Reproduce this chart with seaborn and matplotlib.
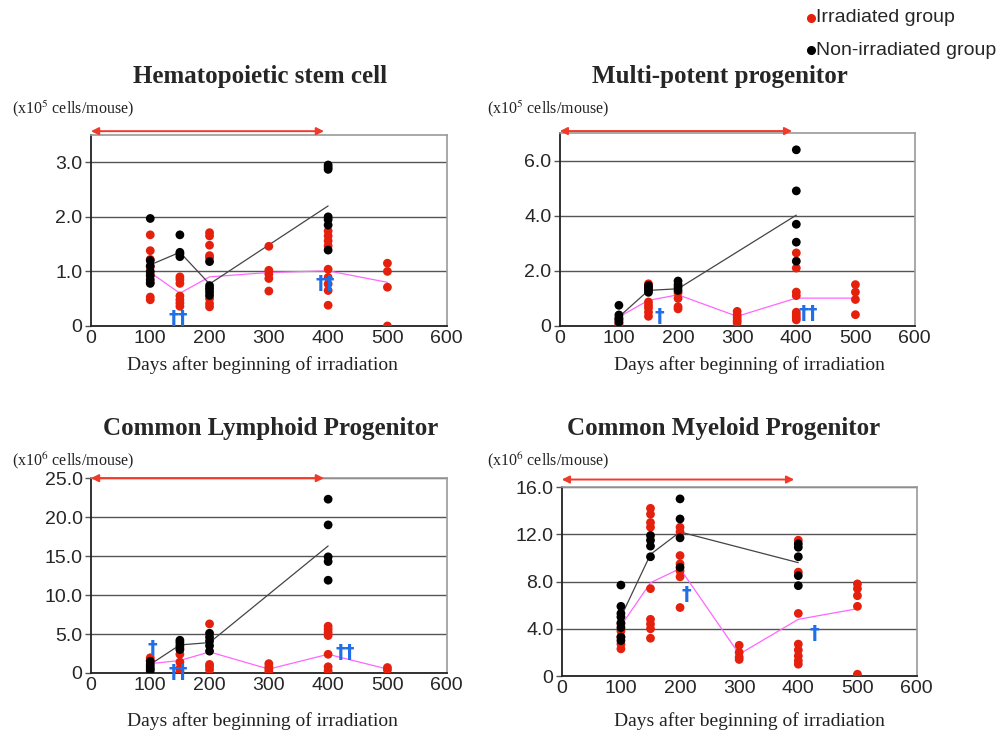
import numpy as np
import pandas as pd
import matplotlib
matplotlib.use('Agg')
import matplotlib.pyplot as plt
from matplotlib.lines import Line2D
import seaborn as sns

# --- Hematopoietic stem cell (x10^5 cells/mouse)
hsc_irr_days = [100, 150, 200, 300, 400, 500]
hsc_irr = [[1.67, 1.38, 1.22, 1.08, 0.95, 0.8, 0.53, 0.48],
           [0.9, 0.85, 0.78, 0.55, 0.48, 0.42, 0.36],
           [1.71, 1.65, 1.48, 1.29, 1.25, 0.69, 0.5, 0.41, 0.35],
           [1.46, 1.02, 0.95, 0.87, 0.64],
           [1.74, 1.65, 1.56, 1.47, 1.04, 0.89, 0.77, 0.65, 0.38],
           [1.15, 1.0, 0.71, 0.0]]
hsc_non_days = [100, 150, 200, 400]
hsc_non = [[1.97, 1.2, 1.1, 1.0, 0.92, 0.85, 0.78],
           [1.67, 1.35, 1.32, 1.27],
           [1.18, 0.74, 0.68, 0.62, 0.56],
           [2.95, 2.91, 2.87, 2.0, 1.95, 1.85, 1.39]]
hsc_irr_mean = [0.98, 0.6, 0.9, 0.98, 1.01, 0.8]
hsc_non_mean = [1.12, 1.35, 0.77, 2.2]
hsc_daggers = [(148, 0.13, '††'), (395, 0.78, '††')]

# --- Multi-potent progenitor (x10^5 cells/mouse)
mpp_irr_days = [100, 150, 200, 300, 400, 500]
mpp_irr = [[0.25, 0.1, 0.05],
           [1.53, 1.42, 0.87, 0.75, 0.65, 0.5, 0.35],
           [1.2, 1.0, 0.7, 0.62],
           [0.53, 0.4, 0.3, 0.2, 0.12],
           [2.65, 2.1, 1.23, 1.1, 0.5, 0.4, 0.3, 0.22],
           [1.5, 1.23, 0.96, 0.41]]
mpp_non_days = [100, 150, 200, 400]
mpp_non = [[0.75, 0.4, 0.3, 0.22, 0.14],
           [1.47, 1.38, 1.3, 1.22],
           [1.63, 1.5, 1.4, 1.29],
           [6.39, 4.9, 3.69, 3.04, 2.35]]
mpp_irr_mean = [0.33, 0.93, 1.13, 0.35, 1.01, 1.01]
mpp_non_mean = [0.33, 1.29, 1.35, 4.02]
mpp_daggers = [(169, 0.36, '†'), (421, 0.45, '††')]

# --- Common Lymphoid Progenitor (x10^6 cells/mouse)
clp_irr_days = [100, 150, 200, 300, 400, 500]
clp_irr = [[1.95, 1.6],
           [3.2, 2.4, 1.4, 0.6, 0.2],
           [6.3, 1.1, 0.8, 0.4],
           [1.2, 0.8, 0.5, 0.2],
           [6.0, 5.6, 5.2, 4.8, 2.4, 0.8, 0.3],
           [0.7, 0.4]]
clp_non_days = [100, 150, 200, 400]
clp_non = [[1.5, 1.1, 0.8, 0.5, 0.3],
           [4.2, 3.9, 3.5, 3.0],
           [5.1, 4.6, 4.1, 3.5, 2.8],
           [22.3, 19.0, 14.9, 14.3, 11.9]]
clp_irr_mean = [1.2, 1.6, 2.7, 0.5, 2.4, 0.5]
clp_non_mean = [1.1, 3.6, 3.9, 16.3]
clp_daggers = [(103, 3.1, '†'), (148, 0.0, '††'), (429, 2.6, '††')]

# --- Common Myeloid Progenitor (x10^6 cells/mouse)
cmp_irr_days = [100, 150, 200, 300, 400, 500]
cmp_irr = [[4.4, 3.8, 3.3, 2.7, 2.3],
           [14.2, 13.7, 13.0, 12.6, 7.4, 4.8, 4.4, 4.0, 3.2],
           [12.6, 12.2, 10.2, 9.5, 8.9, 8.4, 5.8],
           [2.6, 2.0, 1.6, 1.4],
           [11.5, 8.8, 5.3, 2.7, 2.2, 1.7, 1.3, 1.0],
           [7.8, 7.4, 6.8, 5.9, 0.15]]
cmp_non_days = [100, 150, 200, 400]
cmp_non = [[7.7, 5.9, 5.3, 5.0, 4.5, 4.1, 3.3, 3.0],
           [11.9, 11.5, 11.0, 10.1],
           [15.0, 13.3, 11.7, 9.2],
           [11.2, 10.9, 10.1, 8.5, 7.65]]
cmp_irr_mean = [4.25, 7.9, 9.1, 1.85, 4.8, 5.7]
cmp_non_mean = [5.0, 10.3, 12.2, 9.6]
cmp_daggers = [(211, 6.9, '†'), (428, 3.6, '†')]

titles = ['Hematopoietic stem cell', 'Multi-potent progenitor',
          'Common Lymphoid Progenitor', 'Common Myeloid Progenitor']
units = [r'(x10$^{5}$ cells/mouse)', r'(x10$^{5}$ cells/mouse)',
         r'(x10$^{6}$ cells/mouse)', r'(x10$^{6}$ cells/mouse)']
y_ticks = [[0, 1.0, 2.0, 3.0], [0, 2.0, 4.0, 6.0],
           [0, 5.0, 10.0, 15.0, 20.0, 25.0], [0, 4.0, 8.0, 12.0, 16.0]]
y_max = [3.5, 7.0, 25.0, 16.0]
x_ticks = [0, 100, 200, 300, 400, 500, 600]
irradiation_end = 393

RED = '#e5200c'
PINK = '#ff66ff'
BLUE = '#1f6fe8'

sns.set_style('white')
plt.rcParams['font.family'] = ['Liberation Sans', 'DejaVu Sans']
plt.rcParams['mathtext.fontset'] = 'stix'


def long_frame(irr_days, irr, non_days, non):
    rows = []
    for d, vals in zip(irr_days, irr):
        rows += [(d, v, 'Irradiated') for v in vals]
    for d, vals in zip(non_days, non):
        rows += [(d, v, 'Non-irradiated') for v in vals]
    return pd.DataFrame(rows, columns=['day', 'value', 'group'])


panels = [
    (hsc_irr_days, hsc_irr, hsc_non_days, hsc_non, hsc_irr_mean, hsc_non_mean, hsc_daggers),
    (mpp_irr_days, mpp_irr, mpp_non_days, mpp_non, mpp_irr_mean, mpp_non_mean, mpp_daggers),
    (clp_irr_days, clp_irr, clp_non_days, clp_non, clp_irr_mean, clp_non_mean, clp_daggers),
    (cmp_irr_days, cmp_irr, cmp_non_days, cmp_non, cmp_irr_mean, cmp_non_mean, cmp_daggers),
]

# axes rectangles in figure fraction
rects = [[0.0905, 0.5583, 0.354, 0.2588],
         [0.557, 0.5583, 0.353, 0.2615],
         [0.0905, 0.0881, 0.354, 0.264],
         [0.559, 0.084, 0.353, 0.256]]
arrow_y = [1.02, 1.01, 1.0, 1.04]
title_pos = [(0.259, 0.897), (0.716, 0.897), (0.269, 0.420), (0.720, 0.420)]
unit_pos = [(0.012, 0.853), (0.485, 0.853), (0.012, 0.376), (0.485, 0.376)]
xlab_pos = [(0.261, 0.505), (0.746, 0.505), (0.261, 0.023), (0.746, 0.023)]

fig = plt.figure(figsize=(10.05, 7.38), dpi=100)

for i, (idays, irr, ndays, non, imean, nmean, daggers) in enumerate(panels):
    ax = fig.add_axes(rects[i])
    df = long_frame(idays, irr, ndays, non)
    means = pd.DataFrame({'day': idays + ndays,
                          'value': imean + nmean,
                          'group': ['Irradiated'] * len(idays) + ['Non-irradiated'] * len(ndays)})

    sns.lineplot(data=means, x='day', y='value', hue='group',
                 palette={'Irradiated': PINK, 'Non-irradiated': '#444444'},
                 estimator=None, sort=False, lw=0.9, legend=False, ax=ax, zorder=2)
    sns.scatterplot(data=df, x='day', y='value', hue='group',
                    palette={'Irradiated': RED, 'Non-irradiated': 'black'},
                    s=40, edgecolor='none', legend=False, ax=ax, zorder=3)

    for dx, dy, txt in daggers:
        ax.text(dx, dy, txt, color=BLUE, fontsize=14, fontweight='bold',
                ha='center', va='center', family='DejaVu Sans', zorder=4, clip_on=False)

    ax.set_xlim(0, 600)
    ax.set_ylim(0, y_max[i])
    ax.set_xticks(x_ticks)
    ax.set_yticks(y_ticks[i])
    ax.set_yticklabels(['0' if v == 0 else f'{v:.1f}' for v in y_ticks[i]])
    ax.set_xlabel('')
    ax.set_ylabel('')
    ax.tick_params(axis='x', length=0, labelsize=14, pad=3)
    ax.tick_params(axis='y', length=4, width=1, color='#555555', direction='out',
                   left=True, labelsize=14, pad=2)
    ax.yaxis.grid(True, color='#555555', lw=1)
    ax.xaxis.grid(False)
    ax.set_axisbelow(True)
    for side in ['top', 'right']:
        ax.spines[side].set_color('#9a9a9a')
        ax.spines[side].set_linewidth(1.2)
    for side in ['left', 'bottom']:
        ax.spines[side].set_color('#222222')
        ax.spines[side].set_linewidth(1.3)

    ax.annotate('', xy=(0, arrow_y[i]), xytext=(irradiation_end, arrow_y[i]),
                xycoords=('data', 'axes fraction'), textcoords=('data', 'axes fraction'),
                arrowprops=dict(arrowstyle='<|-|>', color='#f03a2a', lw=1.4,
                                mutation_scale=11, shrinkA=0, shrinkB=0),
                annotation_clip=False)

    fig.text(*title_pos[i], titles[i], ha='center', va='center', fontsize=18,
             fontweight='bold', family='Liberation Serif')
    fig.text(*unit_pos[i], units[i], ha='left', va='center', fontsize=11.5,
             family='Liberation Serif', color='#222222')
    fig.text(*xlab_pos[i], 'Days after beginning of irradiation', ha='center', va='center',
             fontsize=14, family='Liberation Serif', color='#222222')

# legend at top right
fig.add_artist(Line2D([0.8065], [0.976], marker='o', ms=5.5, color=RED, ls='none',
                      transform=fig.transFigure))
fig.text(0.812, 0.976, 'Irradiated group', fontsize=14, ha='left', va='center')
fig.add_artist(Line2D([0.8065], [0.932], marker='o', ms=5.5, color='black', ls='none',
                      transform=fig.transFigure))
fig.text(0.812, 0.932, 'Non-irradiated group', fontsize=14, ha='left', va='center')

fig.savefig('out.png', dpi=100, facecolor='white')
